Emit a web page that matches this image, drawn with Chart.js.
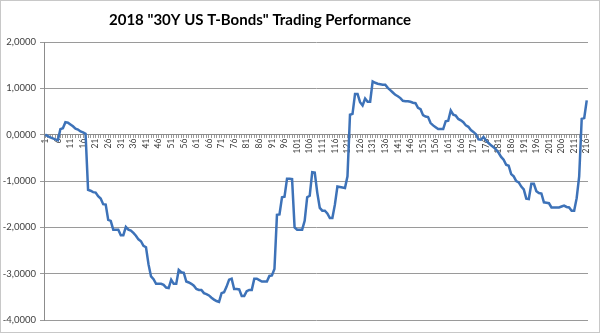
<!DOCTYPE html>
<html>
<head>
<meta charset="utf-8">
<script src="https://cdn.jsdelivr.net/npm/chart.js@4.4.1/dist/chart.umd.min.js"></script>
<style>
html,body{margin:0;background:#fff}
#wrap{width:600px;height:333px;position:relative}
</style>
</head>
<body>
<div id="wrap"><canvas id="perf"></canvas></div>
<script>
const chartTitle = '2018 "30Y US T-Bonds" Trading Performance';
// trade numbers 1..216 on the category axis, every 5th one labelled
const trades = Array.from({length:216}, (_, i) => String(i + 1));
const yTicks = [-4, -3, -2, -1, 0, 1, 2];
// cumulative result after each trade
const pnl = [
  0.00,-0.03,-0.06,-0.08,-0.10,-0.12,0.12,0.14,0.27,0.26,
  0.22,0.18,0.13,0.11,0.07,0.05,0.02,-1.19,-1.21,-1.24,
  -1.25,-1.33,-1.38,-1.50,-1.51,-1.84,-1.86,-2.05,-2.05,-2.05,
  -2.17,-2.17,-1.99,-2.05,-2.07,-2.12,-2.18,-2.26,-2.30,-2.40,
  -2.43,-2.80,-3.06,-3.12,-3.22,-3.22,-3.22,-3.24,-3.30,-3.31,
  -3.13,-3.22,-3.22,-2.92,-2.97,-2.98,-3.17,-3.19,-3.22,-3.26,
  -3.33,-3.35,-3.35,-3.42,-3.44,-3.47,-3.52,-3.56,-3.59,-3.61,
  -3.42,-3.40,-3.28,-3.13,-3.11,-3.33,-3.33,-3.34,-3.48,-3.48,
  -3.38,-3.35,-3.35,-3.11,-3.11,-3.14,-3.17,-3.17,-3.17,-3.05,
  -3.04,-2.90,-1.73,-1.72,-1.35,-1.34,-0.95,-0.95,-0.96,-2.00,
  -2.05,-2.05,-2.05,-1.86,-1.35,-1.32,-0.81,-0.82,-1.25,-1.58,
  -1.64,-1.64,-1.70,-1.80,-1.80,-1.51,-1.12,-1.13,-1.14,-1.15,
  -0.90,0.43,0.45,0.88,0.88,0.70,0.63,0.78,0.71,0.71,
  1.15,1.12,1.10,1.09,1.08,1.08,1.01,0.96,0.91,0.86,
  0.83,0.79,0.73,0.72,0.72,0.71,0.69,0.68,0.58,0.55,
  0.42,0.39,0.38,0.25,0.20,0.16,0.12,0.12,0.12,0.29,
  0.30,0.52,0.43,0.41,0.34,0.31,0.27,0.20,0.17,0.10,
  0.06,0.01,-0.10,-0.11,-0.05,-0.12,-0.18,-0.23,-0.27,-0.32,
  -0.39,-0.48,-0.54,-0.65,-0.67,-0.85,-0.90,-1.00,-1.03,-1.12,
  -1.18,-1.38,-1.39,-1.06,-1.06,-1.22,-1.26,-1.27,-1.46,-1.47,
  -1.48,-1.57,-1.57,-1.57,-1.57,-1.55,-1.53,-1.56,-1.57,-1.64,
  -1.64,-1.37,-0.90,0.34,0.36,0.74
];

const fmt = v => v.toFixed(4).replace('.', ',');

// outer frame + title, drawn by hand so the title can sit left of centre
const frame = {
  id: 'frame',
  afterDraw(c){
    const x = c.ctx;
    x.save();
    x.strokeStyle = '#c8c8c8'; x.lineWidth = 1;
    x.strokeRect(0.5, 0.5, 599, 332);
    x.fillStyle = '#000';
    x.font = 'bold 15px Lato';
    x.textAlign = 'center'; x.textBaseline = 'middle';
    x.fillText(chartTitle, 260, 20);
    x.restore();
  }
};

new Chart(document.getElementById('perf'), {
  type: 'line',
  data: { labels: trades, datasets: [{ data: pnl, borderColor: '#3d72b8', borderWidth: 2.5, pointRadius: 0, tension: 0, fill: false }] },
  options: {
    responsive: true, maintainAspectRatio: false, animation: false,
    layout: { padding: { top: 42, right: 12, bottom: 13, left: 0 } },
    plugins: { legend: { display: false }, tooltip: { enabled: false } },
    scales: {
      x: {
        position: { y: 0 }, offset: true,
        border: { color: '#8c8c8c' },
        grid: { drawOnChartArea: false, tickLength: 3, color: '#9a9a9a' },
        ticks: {
          autoSkip: false, minRotation: 90, maxRotation: 90, padding: 1,
          color: '#404040', font: { family: 'Lato', size: 8.5 },
          callback: (v, i) => (i % 5 === 0 ? trades[i] : '')
        }
      },
      y: {
        min: -4, max: 2,
        afterBuildTicks: s => { s.ticks = yTicks.map(v => ({ value: v })); },
        afterFit: s => { s.width = 44; },
        border: { color: '#8c8c8c' },
        grid: { color: '#9a9a9a', tickLength: 4 },
        ticks: { padding: 4, color: '#404040', font: { family: 'Lato', size: 9.5 }, callback: v => fmt(v) }
      }
    }
  },
  plugins: [frame]
});
</script>
</body>
</html>
